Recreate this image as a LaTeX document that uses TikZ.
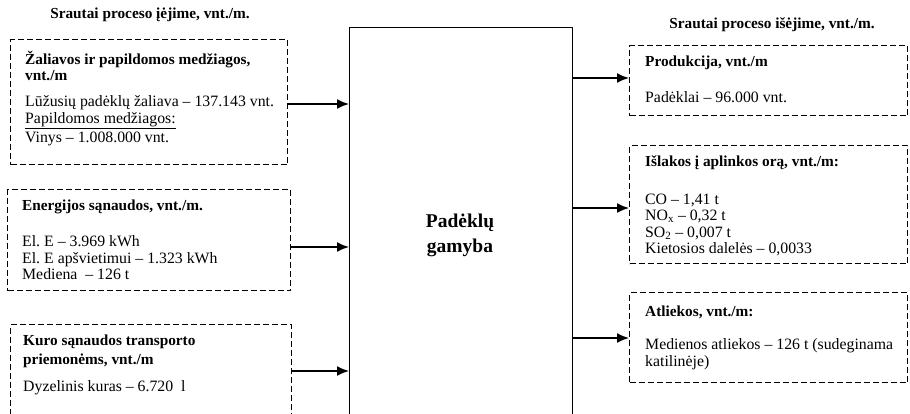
\documentclass[tikz,border=0pt]{standalone}
\usepackage{fontspec}
\setmainfont{Liberation Serif}
\usetikzlibrary{arrows.meta,positioning}
\frenchspacing
\newcommand{\hd}[1]{{\fontsize{15.3}{16.5}\selectfont\bfseries #1}}
\begin{document}
\begin{tikzpicture}[x=1pt,y=-1pt,>={Latex[length=12pt,width=10pt]},line join=bevel,
  flowbox/.style={draw,dash pattern=on 6pt off 3pt,line width=1.1pt,anchor=north west,inner sep=0pt},
  flowtxt/.style={anchor=north west,inner sep=0pt,align=left,font=\fontsize{15.8}{16.5}\selectfont},
  flowarr/.style={->,line width=1.6pt}]
\clip (0,0) rectangle (910,413);
%%
\node (in-title) at (150,15) {\hd{Srautai proceso įėjime, vnt./m.}};
\node (out-title) at (772,25) {\hd{Srautai proceso išėjime, vnt./m.}};
%% process
\node (gamyba) at (349,27) [draw,line width=1.1pt,anchor=north west,inner sep=0pt,minimum width=223pt,minimum height=420pt] {};
\node (gamyba-t) at (460,235) [align=center,font=\fontsize{19.5}{25}\selectfont\bfseries] {Padėklų\\gamyba};
%% inputs
\node (zaliava) at (10,39) [flowbox,minimum width=277pt,minimum height=125pt] {};
\node (zaliava-t) at (25,51) [flowtxt] {\strut\hd{Žaliavos ir papildomos medžiagos,}\\\hd{vnt./m}\\[9.5pt]
  Lūžusių padėklų žaliava – 137.143 vnt.\\\underline{Papildomos medžiagos:}\\[3pt]Vinys – 1.008.000 vnt.};
\node (energija) at (7,189) [flowbox,minimum width=283pt,minimum height=101pt] {};
\node (energija-t) at (22,199) [flowtxt] {\strut\hd{Energijos sąnaudos, vnt./m.}\\[19.5pt]
  El. E – 3.969 kWh\\El. E apšvietimui – 1.323 kWh\\Mediena\ \ – 126 t};
\node (kuras) at (10,324) [flowbox,minimum width=281pt,minimum height=110pt] {};
\node (kuras-t) at (23,334) [flowtxt] {\strut\hd{Kuro sąnaudos transporto}\\[2.5pt]\hd{priemonėms, vnt./m}\\[10.5pt]
  Dyzelinis kuras – 6.720\ \ l};
%% outputs
\node (produkcija) at (629,45) [flowbox,minimum width=278pt,minimum height=70pt] {};
\node (produkcija-t) at (645,55) [flowtxt] {\strut\hd{Produkcija, vnt./m}\\[19.5pt]
  Padėklai – 96.000 vnt.};
\node (islakos) at (629,145) [flowbox,minimum width=278pt,minimum height=118pt] {};
\node (islakos-t) at (645,155) [flowtxt] {\strut\hd{Išlakos į aplinkos orą, vnt./m:}\\[21pt]
  CO – 1,41 t\\NO\textsubscript{x} – 0,32 t\\SO\textsubscript{2} – 0,007 t\\Kietosios dalelės – 0,0033};
\node (atliekos) at (629,292) [flowbox,minimum width=278pt,minimum height=90pt] {};
\node (atliekos-t) at (645,305) [flowtxt] {\strut\hd{Atliekos, vnt./m:}\\[16.5pt]
  Medienos atliekos – 126 t (sudeginama\\katilinėje)};
%% arrow levels
\coordinate (lv1) at (0,104);
\coordinate (lv2) at (0,247);
\coordinate (lv3) at (0,371);
\coordinate (lv4) at (0,78);
\coordinate (lv5) at (0,208);
\coordinate (lv6) at (0,338);
\draw [flowarr] (zaliava.east |- lv1) -- (gamyba.west |- lv1);
\draw [flowarr] (energija.east |- lv2) -- (gamyba.west |- lv2);
\draw [flowarr] (kuras.east |- lv3) -- (gamyba.west |- lv3);
\draw [flowarr] (gamyba.east |- lv4) -- (produkcija.west |- lv4);
\draw [flowarr] (gamyba.east |- lv5) -- (islakos.west |- lv5);
\draw [flowarr] (gamyba.east |- lv6) -- (atliekos.west |- lv6);
%
\end{tikzpicture}
\end{document}
